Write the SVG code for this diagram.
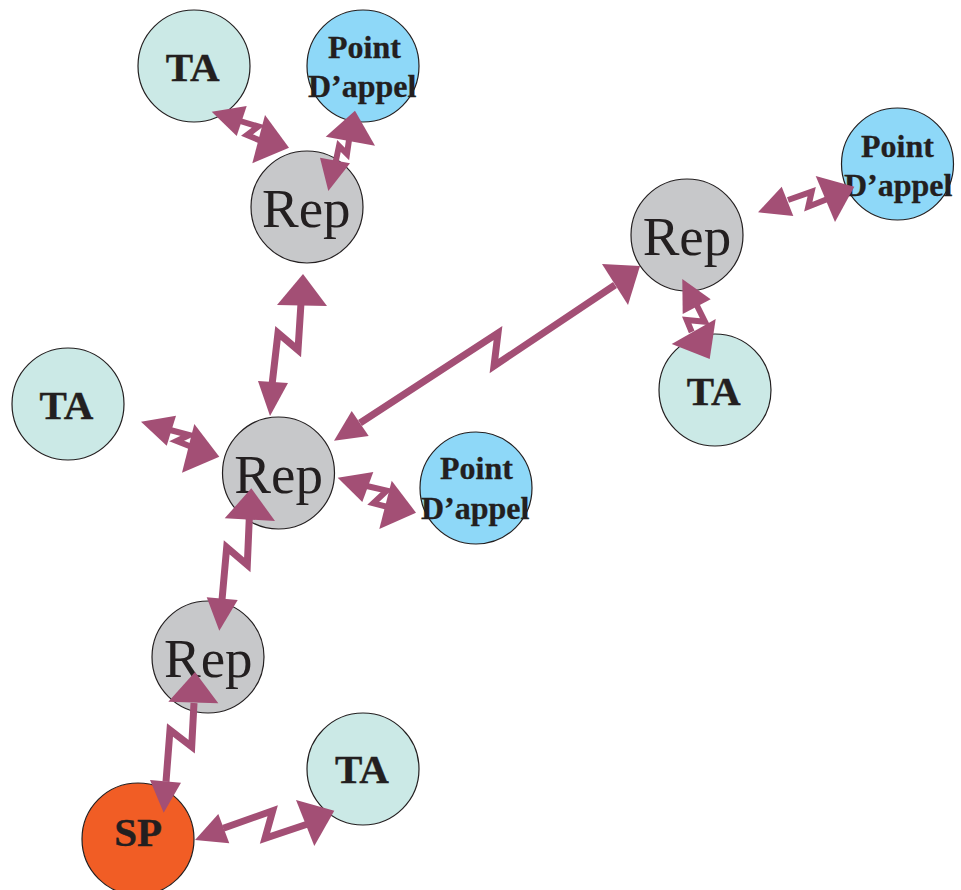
<svg xmlns="http://www.w3.org/2000/svg" width="961" height="890" viewBox="0 0 961 890">
<style>
.n{stroke:#231f20;stroke-width:1.2}
.ta{fill:#cbe9e6}.pa{fill:#8ed8f8}.rep{fill:#c7c8ca}.sp{fill:#f15d25}
text{font-family:"Liberation Serif","Times New Roman",serif;fill:#231f20}
.tb{font-size:41px;font-weight:bold;stroke:#231f20;stroke-width:.4}
.pb{font-size:32px;font-weight:bold;stroke:#231f20;stroke-width:.3}
.r{font-size:55px}
#connectors polyline{fill:none;stroke:#a34f75;stroke-width:7;stroke-linejoin:miter;stroke-miterlimit:3}
#connectors .t polyline{stroke-width:6}
#connectors polygon{fill:#a34f75}
</style>
<rect width="961" height="890" fill="#fff"/>
<g id="ta1"><circle class="n ta" cx="194" cy="66" r="56"/><text class="tb" x="165.7" y="81">TA</text></g>
<g id="pa1"><circle class="n pa" cx="363" cy="66" r="56"/><text class="pb" x="328" y="58">Point</text><text class="pb" x="308" y="97.3">D’appel</text></g>
<g id="rep1"><circle class="n rep" cx="307" cy="207" r="56"/><text class="r" x="262" y="227">Rep</text></g>
<g id="rep2"><circle class="n rep" cx="687" cy="235" r="56"/><text class="r" x="642.7" y="255">Rep</text></g>
<g id="pa2"><circle class="n pa" cx="897.5" cy="164" r="56"/><text class="pb" x="861" y="156.7">Point</text><text class="pb" x="844" y="195.7">D’appel</text></g>
<g id="ta2"><circle class="n ta" cx="715" cy="390" r="56"/><text class="tb" x="686.7" y="405">TA</text></g>
<g id="ta3"><circle class="n ta" cx="68" cy="404" r="56"/><text class="tb" x="39.5" y="419">TA</text></g>
<g id="rep3"><circle class="n rep" cx="278.5" cy="473" r="56"/><text class="r" x="234.3" y="493">Rep</text></g>
<g id="pa3"><circle class="n pa" cx="476" cy="488" r="56"/><text class="pb" x="440" y="479.3">Point</text><text class="pb" x="421" y="519.3">D’appel</text></g>
<g id="rep4"><circle class="n rep" cx="208" cy="657" r="56"/><text class="r" x="164" y="677">Rep</text></g>
<g id="sp"><circle class="n sp" cx="138" cy="839" r="56"/><text class="tb" x="114.3" y="845.7">SP</text></g>
<g id="ta4"><circle class="n ta" cx="363" cy="769" r="56"/><text class="tb" x="335" y="783.3">TA</text></g>
<g id="connectors">
<g class="t"><polyline points="240,121 258.3,126.5 247,135 263,141.7"/><polygon points="211.7,111.7 246.7,106 236.7,136"/><polygon points="289,147.7 265,115 252.3,163.3"/></g>
<g class="t"><polyline points="349,140 347,154 339,146 335,165"/><polygon points="355,110.7 325.7,136.7 375,145.7"/><polygon points="328.3,191 320,157.7 350,163.3"/></g>
<g><polyline points="301,303 298,350 278,333 272,385"/><polygon points="303,274 277,305 327,306"/><polygon points="270,416 258,381 288,383"/></g>
<g><polyline points="360,423 498,333 494,366 615,285"/><polygon points="640,266 602,264 628,305"/><polygon points="334,440.7 351.7,411 368.7,436"/></g>
<g class="t"><polyline points="788,200 811.7,191.7 808.3,206.7 830,198"/><polygon points="854.3,186.7 815.7,176 835,222"/><polygon points="758,212.3 781.7,186.7 793.3,216"/></g>
<g class="t"><polyline points="696.7,305 705,321.7 686.7,320 691.7,332"/><polygon points="682.3,279 710.7,299.3 682.7,314"/><polygon points="709.7,359 715.7,319 671.7,344"/></g>
<g class="t"><polyline points="170,430 189.3,435 176.7,441 195,448.3"/><polygon points="141,421.7 176,415.7 166.7,445.7"/><polygon points="219.3,456.7 194.3,424 182,472.7"/></g>
<g class="t"><polyline points="366.7,486 386.7,490.7 373.3,503.3 391.7,508"/><polygon points="337.7,477.7 373.3,472 362.3,502"/><polygon points="416,512.7 391.7,480.7 379.3,529"/></g>
<g><polyline points="249.3,518 247.3,565 226.7,547.3 222,600"/><polygon points="251.3,488.3 224.7,518.3 275,521"/><polygon points="219.3,630.7 206.7,597.3 237.7,600"/></g>
<g><polyline points="194,703 191.7,746.7 170,730 166,781.7"/><polygon points="195,672 168.3,701.7 218.3,703.3"/><polygon points="163.7,812.7 150,780 181,782.7"/></g>
<g><polyline points="223.3,828.3 272.7,810.7 265,838.3 310,823.3"/><polygon points="195,840 218.3,814 229.3,843.3"/><polygon points="334.3,810.7 296,800 314.3,846"/></g>
</g>
</svg>
